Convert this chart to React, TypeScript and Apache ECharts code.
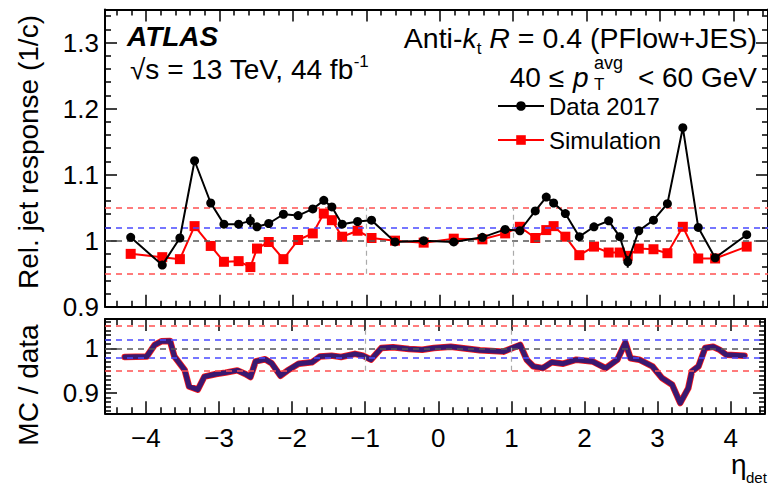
import React, { useEffect, useRef } from "react";
import * as echarts from "echarts";

// ---------- data ----------
const etaBins = [-4.21, -3.78, -3.54, -3.34, -3.12, -2.94, -2.74, -2.58, -2.49, -2.33, -2.13, -1.93, -1.73, -1.58, -1.47, -1.33, -1.12, -0.93, -0.61, -0.22, 0.19, 0.58, 0.89, 1.09, 1.30, 1.45, 1.55, 1.71, 1.90, 2.10, 2.30, 2.45, 2.56, 2.71, 2.91, 3.10, 3.31, 3.52, 3.75, 4.18];
const data2017 = [1.005, 0.963, 1.004, 1.121, 1.057, 1.025, 1.025, 1.030, 1.021, 1.026, 1.040, 1.038, 1.048, 1.061, 1.051, 1.025, 1.029, 1.031, 0.998, 1.000, 0.998, 1.005, 1.017, 1.015, 1.045, 1.066, 1.057, 1.041, 1.006, 1.021, 1.030, 1.006, 0.968, 1.015, 1.031, 1.056, 1.171, 1.020, 0.974, 1.009];
const data2017Err = [0.003, 0.003, 0.003, 0.004, 0.003, 0.003, 0.003, 0.010, 0.004, 0.003, 0.003, 0.003, 0.003, 0.003, 0.003, 0.003, 0.003, 0.003, 0.002, 0.002, 0.002, 0.002, 0.003, 0.003, 0.003, 0.003, 0.003, 0.003, 0.003, 0.003, 0.003, 0.006, 0.009, 0.003, 0.003, 0.003, 0.004, 0.003, 0.003, 0.003];
const simulation = [0.980, 0.975, 0.972, 1.022, 0.992, 0.968, 0.969, 0.960, 0.988, 0.998, 0.972, 1.001, 1.011, 1.041, 1.031, 1.006, 1.015, 1.004, 1.000, 0.997, 1.003, 1.002, 1.011, 1.021, 1.004, 1.016, 1.022, 1.006, 0.978, 0.991, 0.982, 0.982, 0.977, 0.988, 0.987, 0.981, 1.021, 0.973, 0.973, 0.991];

const etaRatio = [-4.29, -3.99, -3.88, -3.79, -3.67, -3.61, -3.54, -3.47, -3.41, -3.29, -3.20, -3.04, -2.91, -2.75, -2.64, -2.57, -2.50, -2.37, -2.28, -2.16, -2.05, -1.91, -1.73, -1.62, -1.46, -1.33, -1.14, -1.03, -0.92, -0.78, -0.62, -0.40, -0.22, -0.06, 0.17, 0.57, 0.89, 1.12, 1.21, 1.30, 1.43, 1.55, 1.71, 1.89, 2.11, 2.29, 2.45, 2.56, 2.63, 2.75, 2.93, 3.06, 3.20, 3.31, 3.42, 3.47, 3.56, 3.65, 3.76, 3.85, 3.94, 4.19];
const ratioMCData = [0.981, 0.982, 1.008, 1.016, 1.017, 0.982, 0.967, 0.952, 0.915, 0.908, 0.937, 0.943, 0.946, 0.951, 0.943, 0.936, 0.971, 0.976, 0.967, 0.939, 0.952, 0.966, 0.969, 0.982, 0.984, 0.981, 0.988, 0.984, 0.975, 1.001, 1.003, 0.999, 0.997, 1.001, 1.004, 0.996, 0.993, 1.008, 0.975, 0.960, 0.956, 0.969, 0.966, 0.975, 0.971, 0.956, 0.975, 1.013, 0.978, 0.975, 0.960, 0.934, 0.919, 0.878, 0.911, 0.949, 0.960, 1.001, 1.004, 0.997, 0.986, 0.984];

const xTickValues = [-4, -3, -2, -1, 0, 1, 2, 3, 4];
const topRefLines = [1.0, 1.02, 1.05, 0.95];
const bottomRefLines = [1.0, 1.02, 0.98, 1.05, 0.95];
const etaVerticalLines = [-1, 1];

const FONT = "Liberation Sans, Arial, Helvetica, sans-serif";

function refStyle(v: number) {
  if (Math.abs(v - 1) < 1e-9) return { color: "#555555", type: [6, 5], width: 1.5 };
  if (Math.abs(Math.abs(v - 1) - 0.02) < 1e-9) return { color: "#4a4aff", type: [6, 5], width: 1.5 };
  return { color: "#ff5050", type: [6, 5], width: 1.5 };
}

const xLabelFmt = (v: number) => {
  const r = Math.round(v);
  if (Math.abs(v - r) > 1e-6 || !xTickValues.includes(r)) return "";
  return r < 0 ? "\u2212" + -r : String(r);
};
const yLabelFmt = (v: number) => {
  const r = Math.round(v * 10);
  if (Math.abs(v * 10 - r) > 1e-6) return "";
  return String(r / 10);
};

function xAxisDef(grid: number, position: string, labels: boolean) {
  return {
    type: "value",
    gridIndex: grid,
    position,
    min: -4.56,
    max: 4.47,
    minInterval: 1,
    maxInterval: 1,
    axisLine: { show: true, onZero: false, lineStyle: { color: "#000", width: 2 } },
    axisTick: { show: true, inside: true, length: 12, lineStyle: { color: "#000", width: 1.5 } },
    minorTick: { show: true, splitNumber: 5, length: 6, lineStyle: { color: "#000", width: 1.5 } },
    splitLine: { show: false },
    axisLabel: {
      show: labels,
      formatter: xLabelFmt,
      margin: 12,
      fontSize: 26,
      fontFamily: FONT,
      color: "#000",
    },
  };
}

function yAxisDef(grid: number, position: string, labels: boolean, min: number, max: number, minorSplit: number, fixedInterval: boolean) {
  const base: any = {
    type: "value",
    gridIndex: grid,
    position,
    min,
    max,
    axisLine: { show: true, onZero: false, lineStyle: { color: "#000", width: 2 } },
    axisTick: { show: true, inside: true, length: 12, lineStyle: { color: "#000", width: 1.5 } },
    minorTick: { show: true, splitNumber: minorSplit, length: 6, lineStyle: { color: "#000", width: 1.5 } },
    splitLine: { show: false },
    axisLabel: {
      show: labels,
      formatter: yLabelFmt,
      margin: 6,
      fontSize: 26,
      fontFamily: FONT,
      color: "#000",
    },
  };
  if (fixedInterval) base.interval = 0.1;
  else {
    base.minInterval = 0.1;
    base.maxInterval = 0.1;
  }
  return base;
}

function markLines(refs: number[], vLow: number, vHigh: number) {
  const d: any[] = refs.map((v) => ({ yAxis: v, lineStyle: refStyle(v) }));
  etaVerticalLines.forEach((e) => {
    d.push([
      { coord: [e, vLow], lineStyle: { color: "#aaaaaa", type: [5, 4], width: 1.2 } },
      { coord: [e, vHigh] },
    ]);
  });
  return {
    silent: true,
    symbol: ["none", "none"],
    label: { show: false },
    animation: false,
    data: d,
  };
}

export default function App() {
  const ref = useRef<HTMLDivElement>(null);

  useEffect(() => {
    if (!ref.current) return;
    const chart = echarts.init(ref.current, null, { renderer: "svg" });

    const errRender = (params: any, api: any) => {
      const x = api.value(0);
      const p1 = api.coord([x, api.value(1)]);
      const p2 = api.coord([x, api.value(2)]);
      return {
        type: "line",
        shape: { x1: p1[0], y1: p1[1], x2: p2[0], y2: p2[1] },
        style: { stroke: "#000", lineWidth: 2 },
      };
    };

    const option: any = {
      animation: false,
      backgroundColor: "#ffffff",
      grid: [
        { left: 105, top: 9.5, width: 665, height: 297.2 },
        { left: 105, top: 319, width: 665, height: 94.3 },
      ],
      xAxis: [
        xAxisDef(0, "bottom", false),
        xAxisDef(0, "top", false),
        xAxisDef(1, "bottom", true),
        xAxisDef(1, "top", false),
      ],
      yAxis: [
        yAxisDef(0, "left", true, 0.9, 1.35, 5, true),
        yAxisDef(0, "right", false, 0.9, 1.35, 5, true),
        yAxisDef(1, "left", true, 0.855, 1.066, 10, false),
        yAxisDef(1, "right", false, 0.855, 1.066, 10, false),
      ],
      legend: {
        data: ["Data 2017", "Simulation"],
        orient: "vertical",
        left: 497,
        top: 94,
        padding: 0,
        itemWidth: 46,
        itemHeight: 12,
        itemGap: 10,
        textStyle: { fontSize: 24, fontFamily: FONT, color: "#000", lineHeight: 20 },
      },
      graphic: [
        {
          type: "text",
          left: 127,
          top: 22,
          style: { text: "ATLAS", font: `italic bold 28px ${FONT}`, fill: "#000" },
        },
        {
          type: "text",
          left: 130,
          top: 53,
          style: {
            text: "{n|\u221As = 13 TeV, 44 fb}{s|-1}",
            rich: {
              n: { fontSize: 28, fontFamily: FONT, fill: "#000", lineHeight: 30, verticalAlign: "bottom" },
              s: { fontSize: 17, fontFamily: FONT, fill: "#000", lineHeight: 30, verticalAlign: "top" },
            },
          },
        },
        {
          type: "text",
          right: 11,
          top: 23,
          style: {
            text: "{n|Anti-}{i|k}{b|t}{n| }{i|R}{n| = 0.4 (PFlow+JES)}",
            rich: {
              n: { fontSize: 28.5, fontFamily: FONT, fill: "#000", lineHeight: 34, verticalAlign: "top" },
              i: { fontSize: 28.5, fontFamily: FONT, fontStyle: "italic", fill: "#000", lineHeight: 34, verticalAlign: "top" },
              b: { fontSize: 17, fontFamily: FONT, fill: "#000", lineHeight: 34, verticalAlign: "bottom" },
            },
          },
        },
        {
          type: "text",
          x: 564,
          y: 63,
          style: { text: "40 \u2264", font: `28px ${FONT}`, fill: "#000", align: "right", verticalAlign: "top" },
        },
        {
          type: "text",
          left: 573,
          top: 63,
          style: { text: "p", font: `italic 28px ${FONT}`, fill: "#000" },
        },
        {
          type: "text",
          left: 594,
          top: 54,
          style: { text: "avg", fontSize: 18, fontFamily: FONT, lineHeight: 18, fill: "#000" },
        },
        {
          type: "text",
          left: 594,
          top: 76,
          style: { text: "T", fontSize: 17, fontFamily: FONT, lineHeight: 17, fill: "#000" },
        },
        {
          type: "text",
          right: 11,
          top: 63,
          style: { text: "< 60 GeV", font: `28px ${FONT}`, fill: "#000" },
        },
        {
          type: "text",
          x: 28,
          y: 152,
          rotation: Math.PI / 2,
          style: {
            text: "Rel. jet response (1/c)",
            font: `28px ${FONT}`,
            fill: "#000",
            align: "center",
            verticalAlign: "middle",
          },
        },
        {
          type: "text",
          x: 28,
          y: 385,
          rotation: Math.PI / 2,
          style: {
            text: "MC / data",
            font: `28px ${FONT}`,
            fill: "#000",
            align: "center",
            verticalAlign: "middle",
          },
        },
        {
          type: "text",
          left: 731,
          top: 450,
          style: { text: "\u03B7", font: `28px ${FONT}`, fill: "#000" },
        },
        {
          type: "text",
          left: 746,
          top: 470,
          style: { text: "det", font: `15px ${FONT}`, fill: "#000" },
        },
      ],
      series: [
        {
          name: "refTop",
          type: "line",
          xAxisIndex: 0,
          yAxisIndex: 0,
          data: [],
          z: 1,
          markLine: markLines(topRefLines, 0.95, 1.05),
        },
        {
          name: "refBottom",
          type: "line",
          xAxisIndex: 2,
          yAxisIndex: 2,
          data: [],
          z: 1,
          markLine: markLines(bottomRefLines, 0.95, 1.05),
        },
        {
          name: "Simulation",
          type: "line",
          xAxisIndex: 0,
          yAxisIndex: 0,
          data: etaBins.map((x, i) => [x, simulation[i]]),
          color: "#ff0000",
          symbol: "rect",
          symbolSize: 10,
          lineStyle: { color: "#ff0000", width: 2 },
          itemStyle: { color: "#ff0000" },
          z: 3,
        },
        {
          name: "dataErr",
          type: "custom",
          xAxisIndex: 0,
          yAxisIndex: 0,
          renderItem: errRender,
          data: etaBins.map((x, i) => [x, data2017[i] - data2017Err[i], data2017[i] + data2017Err[i]]),
          z: 4,
        },
        {
          name: "Data 2017",
          type: "line",
          xAxisIndex: 0,
          yAxisIndex: 0,
          data: etaBins.map((x, i) => [x, data2017[i]]),
          color: "#000000",
          symbol: "circle",
          symbolSize: 9,
          lineStyle: { color: "#000000", width: 2 },
          itemStyle: { color: "#000000" },
          z: 5,
        },
        {
          name: "ratioMCRed",
          type: "line",
          xAxisIndex: 2,
          yAxisIndex: 2,
          data: etaRatio.map((x, i) => [x, ratioMCData[i]]),
          symbol: "none",
          lineStyle: { color: "#ff1a1a", width: 6.5, join: "round", cap: "round" },
          z: 3,
        },
        {
          name: "ratioMCFit",
          type: "line",
          xAxisIndex: 2,
          yAxisIndex: 2,
          data: etaRatio.map((x, i) => [x, ratioMCData[i]]),
          symbol: "none",
          lineStyle: { color: "#3a1870", width: 5, join: "round", cap: "round" },
          z: 4,
        },
      ],
    };

    chart.setOption(option);
    return () => chart.dispose();
  }, []);

  return (
    <div
      ref={ref}
      style={{ position: "absolute", left: 0, top: 0, width: 768, height: 488, background: "#fff" }}
    />
  );
}
